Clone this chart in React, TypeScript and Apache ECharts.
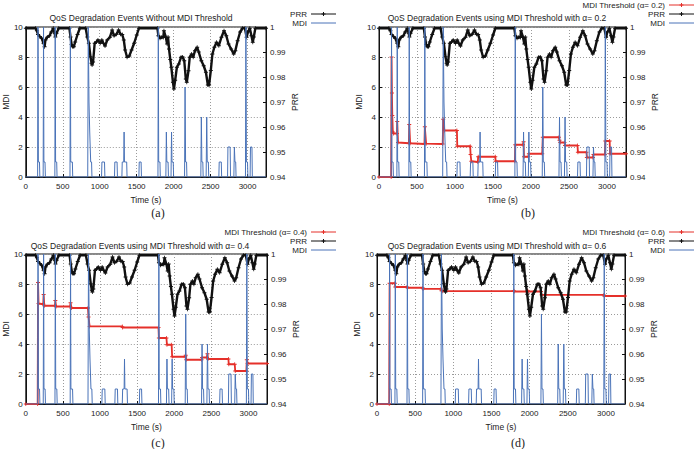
import React, { useEffect, useRef } from "react";
import * as echarts from "echarts";

// Time axis
const TIME_MIN = 0;
const TIME_MAX = 3250;
const TIME_STEP = 500;

// MDI axis (left) and PRR axis (right)
const MDI_MIN = 0;
const MDI_MAX = 10;
const MDI_STEP = 2;
const PRR_MIN = 0.94;
const PRR_MAX = 1;
const PRR_STEP = 0.01;

// Media Delivery Index per time sample: [time (s), MDI]
const mdiSamples: [number, number][] = [
  [0, 0], [160, 0], [165, 10], [170, 1], [185, 1], [190, 0],
  [235, 0], [240, 10], [245, 1], [260, 1], [265, 0],
  [393, 0], [398, 10], [403, 1], [418, 1], [423, 0],
  [598, 0], [603, 10], [608, 1], [630, 1], [635, 0],
  [838, 0], [845, 10], [855, 5], [865, 3], [878, 1], [890, 1], [895, 0],
  [1025, 0], [1030, 1], [1065, 1], [1070, 0],
  [1200, 0], [1205, 1], [1235, 1], [1240, 0],
  [1300, 0], [1305, 1], [1325, 1], [1330, 3], [1335, 1], [1365, 1], [1370, 0],
  [1530, 0], [1535, 1], [1560, 1], [1565, 0],
  [1788, 0], [1793, 10], [1798, 1], [1815, 1], [1820, 0],
  [1895, 0], [1902, 3], [1908, 1], [1925, 1], [1930, 0],
  [1965, 0], [1972, 3], [1978, 1], [1995, 1], [2000, 0],
  [2148, 0], [2155, 6], [2162, 1], [2175, 1], [2180, 0],
  [2368, 0], [2375, 4], [2382, 1], [2395, 1], [2400, 0],
  [2440, 0], [2448, 4], [2455, 1], [2470, 1], [2475, 0],
  [2612, 0], [2617, 1], [2645, 1], [2650, 0],
  [2730, 0], [2735, 2], [2765, 2], [2770, 0],
  [2815, 0], [2822, 2], [2830, 1], [2840, 1], [2845, 0],
  [2972, 0], [2978, 10], [2985, 1], [3000, 1], [3005, 0],
  [3035, 0], [3040, 2], [3060, 2], [3065, 0],
  [3250, 0],
];

// Packet Reception Ratio per time sample: [time (s), PRR]
const prrSamples: [number, number][] = [
  [0, 0.9995], [130, 0.9995], [150, 0.9985], [165, 0.997], [190, 0.9962], [215, 0.9955],
  [240, 0.9935], [254, 0.9921], [265, 0.9948], [290, 0.9959], [320, 0.9965], [345, 0.998],
  [372, 0.9995], [390, 0.9975], [400, 0.996], [415, 0.9975], [446, 0.9995], [590, 0.9995],
  [605, 0.996], [620, 0.993], [635, 0.9921], [650, 0.9921], [668, 0.994], [700, 0.997],
  [731, 0.9995], [810, 0.9995], [832, 0.996], [853, 0.9935], [875, 0.9881], [890, 0.9855],
  [897, 0.9848], [910, 0.986], [932, 0.9935], [955, 0.994], [976, 0.9948], [1007, 0.9935],
  [1029, 0.9948], [1050, 0.9935], [1072, 0.9924], [1102, 0.9948], [1138, 0.9959], [1168, 0.9988],
  [1194, 0.9965], [1226, 0.9971], [1256, 0.9988], [1282, 0.9971], [1305, 0.997], [1326, 0.9948],
  [1344, 0.9908], [1370, 0.9879], [1400, 0.9884], [1431, 0.9908], [1466, 0.9935], [1501, 0.9968],
  [1531, 0.9995], [1781, 0.9995], [1794, 0.9965], [1816, 0.9955], [1838, 0.9959], [1860, 0.9958],
  [1869, 0.9985], [1895, 0.9959], [1912, 0.9932], [1925, 0.996], [1938, 0.9912], [1955, 0.987],
  [1969, 0.9839], [1991, 0.9779], [2004, 0.9752], [2021, 0.9787], [2044, 0.9839], [2070, 0.9852],
  [2100, 0.9879], [2122, 0.988], [2144, 0.9865], [2165, 0.9792], [2178, 0.9779], [2201, 0.9825],
  [2218, 0.9879], [2244, 0.9892], [2265, 0.9879], [2289, 0.9905], [2319, 0.9919], [2340, 0.99],
  [2375, 0.9865], [2407, 0.9845], [2437, 0.9819], [2463, 0.9768], [2480, 0.9768], [2503, 0.9826],
  [2525, 0.9892], [2551, 0.9919], [2581, 0.9939], [2612, 0.9925], [2647, 0.9959], [2682, 0.9985],
  [2713, 0.9965], [2743, 0.9932], [2778, 0.9912], [2813, 0.9892], [2835, 0.9905], [2866, 0.9945],
  [2900, 0.998], [2932, 0.9995], [2965, 0.9995], [2988, 0.9959], [3005, 0.998], [3031, 0.9995],
  [3053, 0.9965], [3071, 0.9939], [3085, 0.996], [3106, 0.9995], [3250, 0.9995],
];

// Adaptive MDI threshold, alpha = 0.2
const thresholdAlpha02: [number, number][] = [
  [0, 0], [160, 0], [165, 8], [170, 5.6], [175, 4.1], [182, 3], [190, 2.9], [235, 2.9],
  [240, 3.7], [250, 2.3], [393, 2.25], [398, 3.5], [410, 2.25], [598, 2.2], [603, 3.35],
  [620, 2.22], [838, 2.2], [845, 3.85], [860, 3.1], [1025, 3.1], [1030, 2.05], [1200, 2.05],
  [1205, 1.5], [1215, 1.05], [1300, 1.0], [1305, 1.35], [1530, 1.35], [1535, 1.05],
  [1788, 1.05], [1793, 2.15], [1895, 2.15], [1902, 2.35], [1908, 1.35], [1965, 1.35],
  [1972, 1.55], [2148, 1.55], [2155, 2.65], [2368, 2.65], [2375, 2.45], [2385, 2.3],
  [2440, 2.3], [2448, 2.1], [2612, 2.1], [2617, 1.65], [2730, 1.65], [2735, 1.3],
  [2815, 1.3], [2822, 1.5], [2972, 1.5], [2978, 2.4], [3035, 2.4], [3040, 1.55], [3250, 1.55],
];

// Adaptive MDI threshold, alpha = 0.4
const thresholdAlpha04: [number, number][] = [
  [0, 0], [160, 0], [165, 8.1], [172, 6.7], [235, 6.65], [240, 7.3], [250, 6.55],
  [393, 6.55], [398, 6.9], [408, 6.5], [598, 6.5], [603, 6.75], [615, 6.4], [838, 6.4],
  [845, 5.8], [860, 5.17], [1300, 5.17], [1305, 5.1], [1788, 5.1], [1793, 4.4], [1895, 4.4],
  [1902, 3.95], [1965, 3.95], [1972, 3.15], [2148, 3.15], [2155, 3.25], [2162, 2.95],
  [2368, 2.95], [2375, 3.1], [2440, 3.1], [2448, 3.35], [2455, 3.0], [2730, 3.0],
  [2735, 2.65], [2815, 2.65], [2822, 2.2], [2972, 2.2], [2978, 2.95], [2990, 2.7], [3250, 2.7],
];

// Adaptive MDI threshold, alpha = 0.6
const thresholdAlpha06: [number, number][] = [
  [0, 0], [160, 0], [165, 8.05], [235, 8.05], [240, 7.8], [393, 7.8], [398, 7.75],
  [598, 7.75], [603, 7.67], [838, 7.67], [845, 7.55], [860, 7.52], [1788, 7.52],
  [1793, 7.55], [1800, 7.5], [1965, 7.5], [1972, 7.55], [1980, 7.5], [2148, 7.5],
  [2155, 7.27], [2972, 7.27], [2978, 7.2], [3250, 7.2],
];

const panelTitles = [
  "QoS Degradation Events Without MDI Threshold",
  "QoS Degradation Events using MDI Threshold with α= 0.2",
  "QoS Degradation Events using MDI Threshold with α= 0.4",
  "QoS Degradation Events using MDI Threshold with α= 0.6",
];
const thresholdNames = [
  "",
  "MDI Threshold (α= 0.2)",
  "MDI Threshold (α= 0.4)",
  "MDI Threshold (α= 0.6)",
];
const thresholdData = [null, thresholdAlpha02, thresholdAlpha04, thresholdAlpha06];
const captions = ["(a)", "(b)", "(c)", "(d)"];
const xAxisName = "Time (s)";
const mdiName = "MDI";
const prrName = "PRR";

// Layout of the four panels
const panels = [
  { left: 18, top: 27, width: 248, titleX: 141, titleY: 17.5, capX: 158, capY: 213, keyX: 311, keyY: 14 },
  { left: 379, top: 27, width: 247, titleX: 497, titleY: 17.5, capX: 528, capY: 213, keyX: 669, keyY: 5 },
  { left: 19, top: 254, width: 248, titleX: 140, titleY: 246, capX: 158, capY: 443, keyX: 311, keyY: 232 },
  { left: 377, top: 254, width: 248, titleX: 497, titleY: 246, capX: 518, capY: 443, keyX: 669, keyY: 232 },
];
const PLOT_HEIGHT = 150;
const KEY_LEN = 25;
const KEY_ROW = 9;

const FONT = "'Liberation Sans', Arial, Helvetica, sans-serif";
const TEXT_COLOR = "#222";
const BLUE = "#4a73b8";
const RED = "#e5302a";
const BLACK = "#111";
const PLUS = "path://M4,0H6V4H10V6H6V10H4V6H0V4H4Z";

export default function App() {
  const ref = useRef<HTMLDivElement>(null);

  useEffect(() => {
    document.body.style.margin = "0";
    if (!ref.current) return;
    const chart = echarts.init(ref.current, undefined, { renderer: "svg" });

    const grid: any[] = [];
    const xAxis: any[] = [];
    const yAxis: any[] = [];
    const series: any[] = [];
    const graphic: any[] = [];

    const dotted = { show: true, lineStyle: { color: "#9a9a9a", type: [1, 2], width: 1 } };
    const axisLine = { show: true, onZero: false, lineStyle: { color: BLACK, width: 1 } };
    const axisTick = { show: true, inside: true, length: 3, lineStyle: { color: BLACK } };
    const label = { fontSize: 8, color: TEXT_COLOR, fontFamily: FONT };
    const nameStyle = { fontSize: 8.5, color: TEXT_COLOR, fontFamily: FONT };

    // Legend key row: label on the left, line sample (with optional "+" marker) on the right
    const keyRow = (x: number, y: number, text: string, color: string, marker: boolean) => {
      graphic.push({
        type: "text", x: x - 4, y, z: 10,
        style: { text, fontSize: 8, fontFamily: FONT, fill: TEXT_COLOR, align: "right", verticalAlign: "middle" },
      });
      graphic.push({
        type: "line", z: 10,
        shape: { x1: x, y1: y, x2: x + KEY_LEN, y2: y },
        style: { stroke: color, lineWidth: 1 },
      });
      if (marker) {
        const cx = x + KEY_LEN / 2;
        graphic.push({
          type: "line", z: 10,
          shape: { x1: cx - 2, y1: y, x2: cx + 2, y2: y },
          style: { stroke: color, lineWidth: 1 },
        });
        graphic.push({
          type: "line", z: 10,
          shape: { x1: cx, y1: y - 2, x2: cx, y2: y + 2 },
          style: { stroke: color, lineWidth: 1 },
        });
      }
    };

    panels.forEach((p, i) => {
      grid.push({
        left: p.left, top: p.top, width: p.width, height: PLOT_HEIGHT,
        show: true, borderColor: BLACK, borderWidth: 1, backgroundColor: "transparent",
      });
      xAxis.push({
        type: "value", gridIndex: i, min: TIME_MIN, max: TIME_MAX, interval: TIME_STEP,
        name: xAxisName, nameLocation: "middle", nameGap: 18, nameTextStyle: nameStyle,
        axisLine, axisTick,
        axisLabel: { ...label, margin: 5, formatter: (v: number) => (v % TIME_STEP === 0 ? String(v) : "") },
        splitLine: dotted,
      });
      yAxis.push({
        type: "value", gridIndex: i, position: "left", min: MDI_MIN, max: MDI_MAX, interval: MDI_STEP,
        name: mdiName, nameLocation: "middle", nameGap: 9, nameRotate: 90, nameTextStyle: nameStyle,
        axisLine, axisTick, axisLabel: { ...label, margin: 3 }, splitLine: dotted,
      });
      yAxis.push({
        type: "value", gridIndex: i, position: "right", min: PRR_MIN, max: PRR_MAX, interval: PRR_STEP,
        name: prrName, nameLocation: "middle", nameGap: 24, nameRotate: 90, nameTextStyle: nameStyle,
        axisLine, axisTick,
        axisLabel: { ...label, margin: 4, formatter: (v: number) => String(+v.toFixed(2)) },
        splitLine: { show: false },
      });

      const thr = thresholdData[i];
      let row = p.keyY;
      if (thr) {
        series.push({
          type: "line", name: thresholdNames[i], xAxisIndex: i, yAxisIndex: 2 * i,
          data: thr, color: RED, lineStyle: { width: 1.8, color: RED },
          symbol: PLUS, symbolSize: 4, itemStyle: { color: RED }, z: 2, clip: true,
        });
        keyRow(p.keyX, row, thresholdNames[i], RED, true);
        row += KEY_ROW;
      }
      series.push({
        type: "line", name: prrName, xAxisIndex: i, yAxisIndex: 2 * i + 1,
        data: prrSamples, color: BLACK, lineStyle: { width: 2.4, color: BLACK },
        symbol: PLUS, symbolSize: 4, itemStyle: { color: BLACK }, z: 3, clip: false,
      });
      keyRow(p.keyX, row, prrName, BLACK, true);
      row += KEY_ROW;
      series.push({
        type: "line", name: mdiName, xAxisIndex: i, yAxisIndex: 2 * i,
        data: mdiSamples, color: BLUE, lineStyle: { width: 1, color: BLUE },
        symbol: "none", z: 4,
      });
      keyRow(p.keyX, row, mdiName, BLUE, false);

      graphic.push({
        type: "text", x: p.titleX, y: p.titleY, z: 10,
        style: {
          text: panelTitles[i], fontSize: 8.5, fontFamily: FONT, fill: TEXT_COLOR,
          align: "center", verticalAlign: "middle",
        },
      });
      graphic.push({
        type: "text", x: p.capX, y: p.capY, z: 10,
        style: {
          text: captions[i], fontSize: 12, fontFamily: "'Liberation Serif', 'Times New Roman', serif",
          fill: TEXT_COLOR, align: "center", verticalAlign: "middle",
        },
      });
    });

    chart.setOption({
      animation: false,
      backgroundColor: "#fff",
      grid, xAxis, yAxis, series, graphic,
    });

    return () => chart.dispose();
  }, []);

  return <div ref={ref} style={{ width: 696, height: 449 }} />;
}
